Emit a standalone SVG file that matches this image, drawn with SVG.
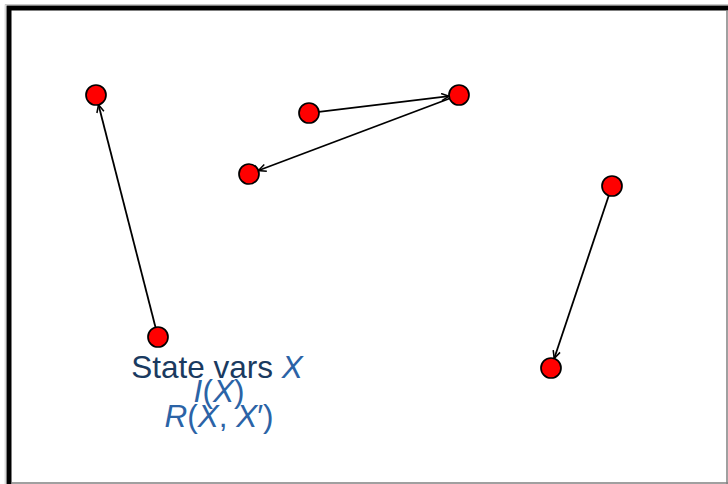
<svg xmlns="http://www.w3.org/2000/svg" width="728" height="484" viewBox="0 0 728 484">
  <style>
    .node circle { fill: #ff0000; stroke: #000; stroke-width: 1.7; }
    .edge { stroke: #000; stroke-width: 1.8; fill: none; marker-end: url(#arr); }
    .lbl { font-family: "Liberation Sans", Arial, sans-serif; font-size: 31.5px; text-anchor: middle; }
    .t { fill: #1a3a60; }
    .m { fill: #2b63a6; }
    .i { font-style: italic; }
  </style>
  <defs>
    <marker id="arr" viewBox="0 0 10 10" refX="9.5" refY="5" markerWidth="9" markerHeight="9" markerUnits="userSpaceOnUse" orient="auto">
      <path d="M1,1 L9.5,5 L1,9" fill="none" stroke="#000" stroke-width="1.7"/>
    </marker>
  </defs>
  <rect x="0" y="0" width="728" height="484" fill="#fff"/>
  <g id="frame">
    <line x1="5" y1="4.5" x2="728" y2="4.5" stroke="#c8c8c8" stroke-width="1"/>
    <line x1="5.2" y1="4.5" x2="5.2" y2="484" stroke="#c8c8c8" stroke-width="1"/>
    <rect x="9" y="8" width="740" height="500" fill="none" stroke="#000" stroke-width="5"/>
    <line x1="727" y1="10.5" x2="727" y2="484" stroke="#808080" stroke-width="1.5"/>
    <line x1="11.5" y1="483" x2="728" y2="483" stroke="#808080" stroke-width="1.5"/>
  </g>
  <g id="connectors">
    <line class="edge" x1="155.5" y1="327.3" x2="98.5" y2="104.7"/>
    <line class="edge" x1="318.9" y1="111.8" x2="449.1" y2="96.2"/>
    <line class="edge" x1="449.6" y1="98.5" x2="258.4" y2="170.5"/>
    <line class="edge" x1="608.8" y1="195.5" x2="554.2" y2="358.5"/>
  </g>
  <g id="nA" class="node"><circle cx="96" cy="95" r="10"/></g>
  <g id="nB" class="node"><circle cx="158" cy="337" r="10"/></g>
  <g id="nC" class="node"><circle cx="309" cy="113" r="10"/></g>
  <g id="nD" class="node"><circle cx="459" cy="95" r="10"/></g>
  <g id="nE" class="node"><circle cx="249" cy="174" r="10"/></g>
  <g id="nF" class="node"><circle cx="612" cy="186" r="10"/></g>
  <g id="nG" class="node"><circle cx="551" cy="368" r="10"/></g>
  <g id="label">
    <text class="lbl" x="217" y="378"><tspan class="t">State vars </tspan><tspan class="m i">X</tspan></text>
    <text class="lbl m" x="219" y="402"><tspan class="i">I</tspan>(<tspan class="i">X</tspan>)</text>
    <text class="lbl m" x="219" y="427"><tspan class="i">R</tspan>(<tspan class="i">X</tspan>, <tspan class="i">X</tspan>′)</text>
  </g>
</svg>
